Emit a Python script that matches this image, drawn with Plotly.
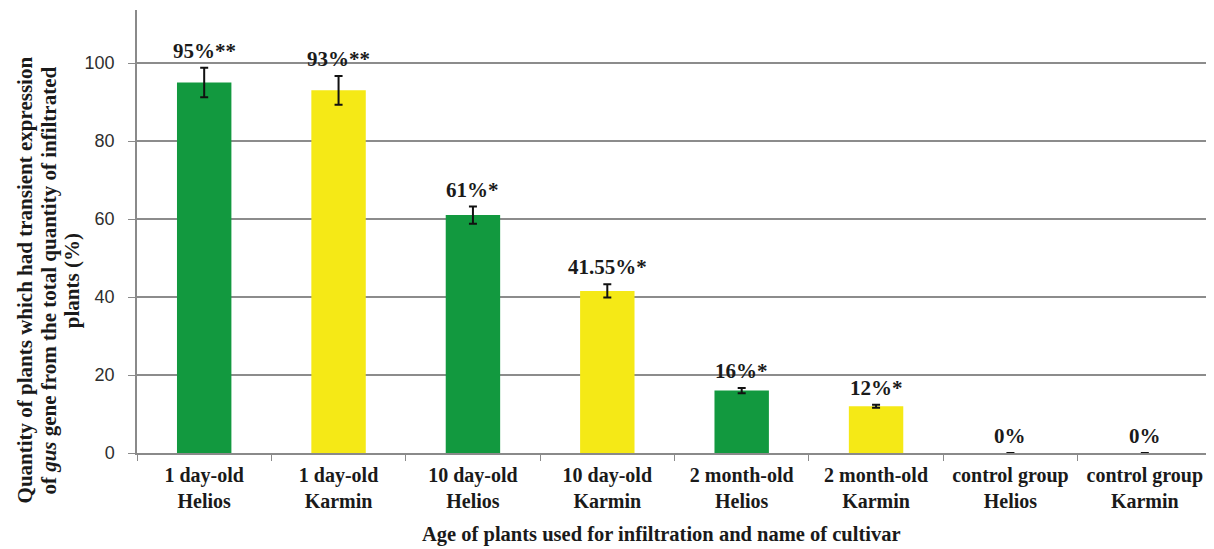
import plotly.graph_objects as go

categories = ["1 day-old<br>Helios", "1 day-old<br>Karmin", "10 day-old<br>Helios", "10 day-old<br>Karmin",
              "2 month-old<br>Helios", "2 month-old<br>Karmin", "control group<br>Helios", "control group<br>Karmin"]
values = [95, 93, 61, 41.55, 16, 12, 0, 0]
errors = [3.8, 3.7, 2.2, 1.7, 0.7, 0.4, 0, 0]
labels = ["95%**", "93%**", "61%*", "41.55%*", "16%*", "12%*", "0%", "0%"]
cultivar = ["Helios", "Karmin", "Helios", "Karmin", "Helios", "Karmin", "Helios", "Karmin"]
ytitle_lines = ["Quantity of plants which had transient expression",
                "of <i>gus</i> gene from the total quantity of infiltrated",
                "plants (%)"]
xtitle = "Age of plants used for infiltration and name of cultivar"

GREEN = "#12993F"
YELLOW = "#F5E916"
colors = [GREEN if c == "Helios" else YELLOW for c in cultivar]

SERIF = "Liberation Serif, Times New Roman, serif"
TXT = "#1a1a1a"

fig = go.Figure()
fig.add_trace(go.Bar(
    x=categories, y=values, marker=dict(color=colors, line=dict(width=0)),
    error_y=dict(type="data", array=errors, visible=True, color="#111111", thickness=2, width=4),
    showlegend=False, hoverinfo="skip",
))

for cat, v, e, lab in zip(categories, values, errors, labels):
    fig.add_annotation(x=cat, y=v + e, text=f"<b>{lab}</b>", showarrow=False,
                       yanchor="middle", yshift=17, font=dict(family=SERIF, size=21, color=TXT))

# y-axis title, three lines
for xp, line in zip([-0.104, -0.0815, -0.0605], ytitle_lines):
    fig.add_annotation(xref="paper", yref="paper", x=xp, y=0.39, textangle=-90,
                       text=f"<b>{line}</b>", showarrow=False,
                       font=dict(family=SERIF, size=21, color=TXT),
                       xanchor="center", yanchor="middle")

fig.add_annotation(xref="paper", yref="paper", x=0.488, y=-0.185, text=f"<b>{xtitle}</b>",
                   showarrow=False, font=dict(family=SERIF, size=20.5, color=TXT),
                   xanchor="center", yanchor="middle")

fig.update_layout(
    width=1206, height=541,
    margin=dict(l=129, r=2, t=2, b=96),
    paper_bgcolor="white", plot_bgcolor="white",
    bargap=0.595,
    xaxis=dict(
        tickfont=dict(family=SERIF, size=20, color=TXT),
        tickprefix="<b>", ticksuffix="</b>",
        showline=True, linecolor="#8a8a8a", linewidth=1.5,
        ticks="outside", tickson="boundaries", ticklen=6, tickcolor="#8a8a8a",
        ticklabelstandoff=3,
    ),
    yaxis=dict(
        range=[0, 113.6], tickvals=[0, 20, 40, 60, 80, 100],
        tickfont=dict(family="Liberation Sans, Arial, sans-serif", size=18, color="#2e2e2e"),
        showgrid=True, gridcolor="#8c8c8c", gridwidth=1.5,
        showline=True, linecolor="#8a8a8a", linewidth=1.5,
        ticks="outside", ticklen=7, tickcolor="#8a8a8a", ticklabelstandoff=10,
        zeroline=False,
    ),
)

fig.write_html("out.html")
